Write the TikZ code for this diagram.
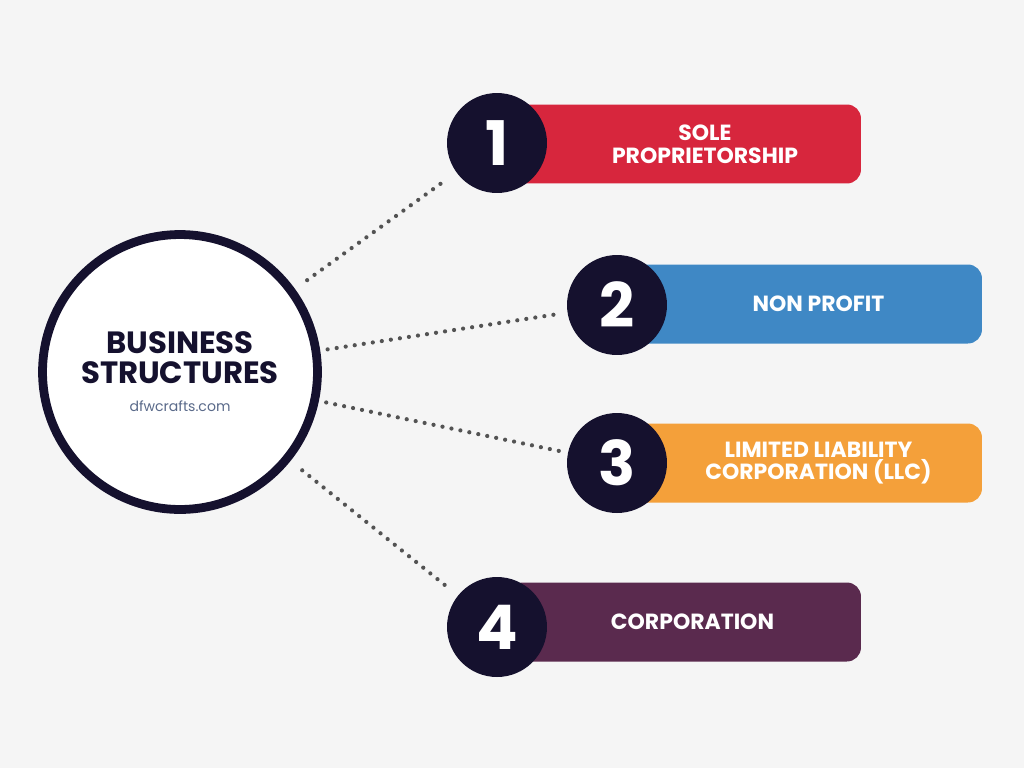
\documentclass[tikz,border=0pt]{standalone}
\usepackage{fontspec}
\setmainfont{Poppins}
\usetikzlibrary{positioning}
\definecolor{navy}{HTML}{15112E}
\definecolor{barred}{HTML}{D7263D}
\definecolor{barblue}{HTML}{3F88C5}
\definecolor{barorange}{HTML}{F4A03A}
\definecolor{barpurple}{HTML}{5A2A4E}
\definecolor{bg}{HTML}{F5F5F5}
\definecolor{sitegray}{HTML}{5A6A8A}
\tikzset{
  bar/.style={rectangle, rounded corners=8pt, minimum height=1.58cm, minimum width=7.04cm, text=white, font=\bfseries\fontsize{12.5}{13}\selectfont, align=center},
  num/.style={circle, fill=navy, minimum size=2cm, inner sep=0pt, text=white, font=\bfseries\fontsize{35}{35}\selectfont},
  link/.style={draw=darkgray!90, line width=2.4pt, dash pattern=on 0pt off 5.2pt, line cap=round}
}
\begin{document}
\begin{tikzpicture}[x=0.02cm, y=-0.02cm]
	\fill[bg] (0,0) rectangle (1024,768);
	%center
	\node[circle, draw=navy, line width=5pt, fill=white, minimum size=5.5cm, align=center, text=navy, font=\bfseries\fontsize{17.5}{17}\selectfont] (big) at (180,372)
		{BUSINESS\\STRUCTURES\\[-1pt]{\color{sitegray}\mdseries\fontsize{8}{8}\selectfont dfwcrafts.com}};
	%bars
	\node[bar, fill=barred] (b1) at (685,144) {\hspace{0.8cm}SOLE\\\hspace{0.8cm}PROPRIETORSHIP};
	\node[bar, fill=barblue] (b2) at (806,304) {\hspace{0.5cm}NON PROFIT};
	\node[bar, fill=barorange] (b3) at (806,463) {\hspace{0.5cm}LIMITED LIABILITY\\\hspace{0.5cm}CORPORATION (LLC)};
	\node[bar, fill=barpurple] (b4) at (685,622) {\hspace{0.3cm}CORPORATION};
	%numbers
	\node[num] (n1) at (497,143) {1};
	\node[num] (n2) at (617,305) {2};
	\node[num] (n3) at (617,463) {3};
	\node[num] (n4) at (497,627) {4};
	%links
	\draw[link, shorten <=0.3cm, shorten >=0.26cm] (big) -- (n1);
	\draw[link, shorten <=0.15cm, shorten >=0.15cm] (big) -- (n2);
	\draw[link, shorten <=0.15cm, shorten >=0.15cm] (big) -- (n3);
	\draw[link, shorten <=0.3cm, shorten >=0.26cm] (big) -- (n4);
\end{tikzpicture}
\end{document}
